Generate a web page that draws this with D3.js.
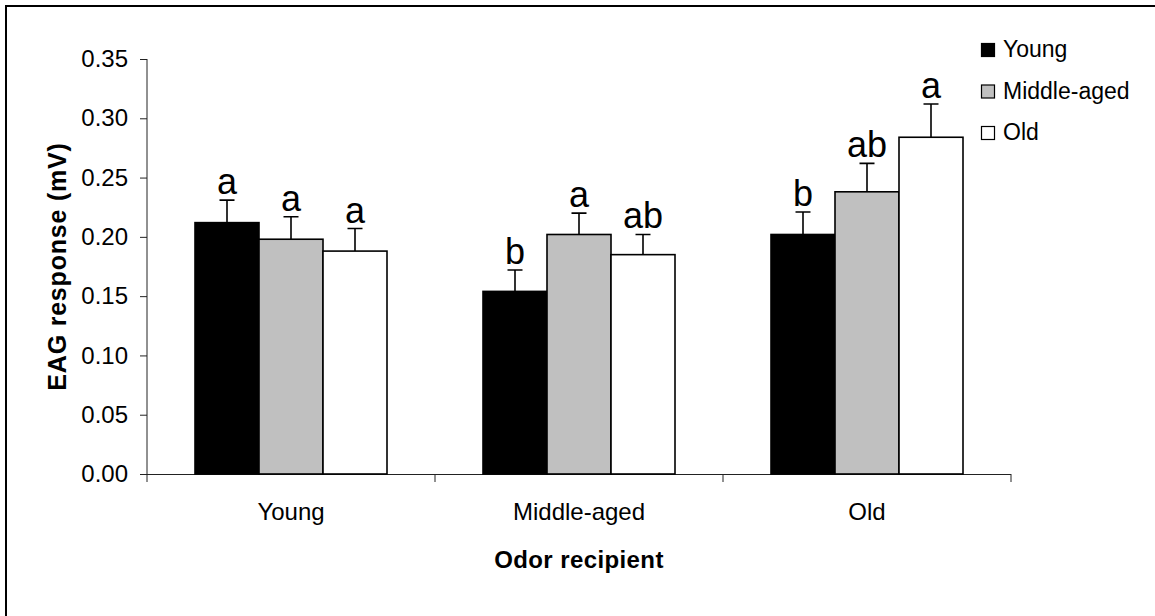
<!DOCTYPE html>
<html>
<head>
<meta charset="utf-8">
<script src="https://cdn.jsdelivr.net/npm/d3@7"></script>
<style>
  html, body { margin: 0; padding: 0; background: #fff; }
  svg { display: block; font-family: Arial, "Liberation Sans", sans-serif; }
</style>
</head>
<body>
<svg id="chart" width="1155" height="616"></svg>
<script>
// Odor recipient groups along the x axis
const recipients = ["Young", "Middle-aged", "Old"];
// Odor donor series
const donors = ["Young", "Middle-aged", "Old"];
const donorFill = ["#000000", "#c0c0c0", "#ffffff"];

// Mean EAG response (mV) per recipient group, one array per donor
const youngMeans  = [0.212, 0.154, 0.202];
const middleMeans = [0.198, 0.202, 0.238];
const oldMeans    = [0.188, 0.185, 0.284];

// Standard errors
const youngSE  = [0.019, 0.018, 0.019];
const middleSE = [0.019, 0.018, 0.024];
const oldSE    = [0.019, 0.017, 0.028];

// Significance letters
const youngLetters  = ["a", "b", "b"];
const middleLetters = ["a", "a", "ab"];
const oldLetters    = ["a", "ab", "a"];

const yTicks = [0, 0.05, 0.10, 0.15, 0.20, 0.25, 0.30, 0.35];

const means = [youngMeans, middleMeans, oldMeans];
const ses = [youngSE, middleSE, oldSE];
const letters = [youngLetters, middleLetters, oldLetters];

const svg = d3.select("#chart");

// outer frame
svg.append("rect")
  .attr("x", 6).attr("y", 6)
  .attr("width", 1300).attr("height", 800)
  .attr("fill", "none").attr("stroke", "#000").attr("stroke-width", 2);

const plot = { left: 147, right: 1011, top: 59, bottom: 474 };

const x0 = d3.scaleBand().domain(recipients).range([plot.left, plot.right]).padding(0);
const x1 = d3.scaleBand().domain(donors).range([0, x0.bandwidth()])
  .paddingInner(0).paddingOuter(0.75);
const y = d3.scaleLinear().domain([0, 0.35]).range([plot.bottom, plot.top]);

// y axis
const yAxis = svg.append("g")
  .attr("transform", `translate(${plot.left},0)`)
  .call(d3.axisLeft(y).tickValues(yTicks).tickFormat(d3.format(".2f")).tickSize(7).tickPadding(12));
yAxis.select(".domain").attr("stroke", "#222").attr("d", `M0,${plot.top}V${plot.bottom + 8}`);
yAxis.selectAll(".tick line").attr("stroke", "#222");
yAxis.selectAll(".tick text").attr("font-size", 24).attr("fill", "#000")
  .attr("font-family", "Arial, 'Liberation Sans', sans-serif");

// x axis with ticks at category boundaries
const xg = svg.append("g").attr("transform", `translate(0,${plot.bottom})`);
xg.append("line").attr("x1", plot.left).attr("x2", plot.right)
  .attr("y1", 0.5).attr("y2", 0.5).attr("stroke", "#222");
const boundaries = recipients.map(r => x0(r) + x0.bandwidth()).slice();
xg.selectAll("line.bt").data(boundaries).join("line")
  .attr("class", "bt")
  .attr("x1", d => d).attr("x2", d => d).attr("y1", 0).attr("y2", 8)
  .attr("stroke", "#222");
xg.selectAll("text").data(recipients).join("text")
  .attr("x", d => x0(d) + x0.bandwidth() / 2)
  .attr("y", 46)
  .attr("text-anchor", "middle")
  .attr("font-size", 24)
  .text(d => d);

// bars
recipients.forEach((r, ri) => {
  const g = svg.append("g").attr("transform", `translate(${x0(r)},0)`);
  const rows = donors.map((dn, di) => ({
    donor: dn, di, v: means[di][ri], se: ses[di][ri], letter: letters[di][ri]
  }));
  g.selectAll("rect").data(rows).join("rect")
    .attr("x", d => x1(d.donor))
    .attr("y", d => y(d.v))
    .attr("width", x1.bandwidth())
    .attr("height", d => y(0) - y(d.v))
    .attr("fill", d => donorFill[d.di])
    .attr("stroke", "#000").attr("stroke-width", 1.6);
  // error bars
  g.selectAll("path.err").data(rows).join("path")
    .attr("class", "err")
    .attr("d", d => {
      const cx = x1(d.donor) + x1.bandwidth() / 2;
      return `M${cx},${y(d.v)}V${y(d.v + d.se)}M${cx - 7.5},${y(d.v + d.se)}H${cx + 7.5}`;
    })
    .attr("fill", "none").attr("stroke", "#000").attr("stroke-width", 1.6);
  // significance letters
  g.selectAll("text").data(rows).join("text")
    .attr("x", d => x1(d.donor) + x1.bandwidth() / 2)
    .attr("y", d => y(d.v + d.se) - 6)
    .attr("text-anchor", "middle")
    .attr("font-size", 36)
    .text(d => d.letter);
});

// axis titles
svg.append("text")
  .attr("x", (plot.left + plot.right) / 2).attr("y", 568)
  .attr("text-anchor", "middle")
  .attr("font-size", 24).attr("font-weight", "bold").attr("letter-spacing", 0.4)
  .text("Odor recipient");
svg.append("text")
  .attr("transform", `translate(66,${(plot.top + plot.bottom) / 2}) rotate(-90)`)
  .attr("text-anchor", "middle")
  .attr("font-size", 25).attr("font-weight", "bold").attr("letter-spacing", 0.8)
  .text("EAG response (mV)");

// legend
const legend = svg.append("g").attr("transform", "translate(981,57)");
donors.forEach((dn, i) => {
  const row = legend.append("g").attr("transform", `translate(0,${i * 41.5})`);
  row.append("rect").attr("x", 0.5).attr("y", -13.5).attr("width", 13).attr("height", 13)
    .attr("fill", donorFill[i]).attr("stroke", "#000").attr("stroke-width", 1.2);
  row.append("text").attr("x", 22).attr("y", 0).attr("font-size", 23).text(dn);
});
</script>
</body>
</html>
